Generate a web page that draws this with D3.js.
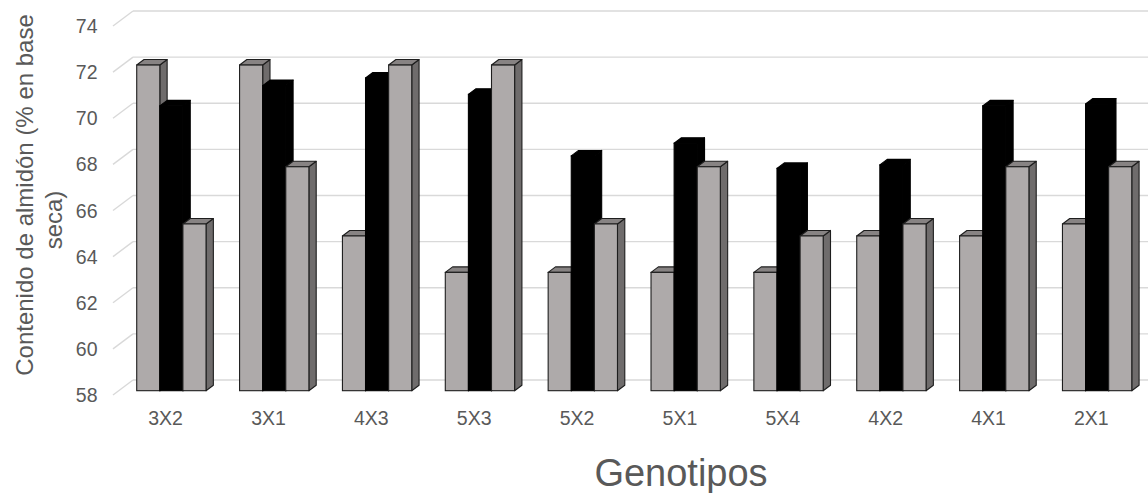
<!DOCTYPE html>
<html>
<head>
<meta charset="utf-8">
<script src="https://cdn.jsdelivr.net/npm/d3@7"></script>
<style>
  html, body { margin: 0; padding: 0; background: #ffffff; }
  svg { display: block; font-family: "Liberation Sans", Arial, sans-serif; }
</style>
</head>
<body>
<svg id="chart" width="1148" height="493"></svg>
<script>
// Starch content (% dry basis) per genotype, three series per genotype
const categories = ["3X2", "3X1", "4X3", "5X3", "5X2", "5X1", "5X4", "4X2", "4X1", "2X1"];
const seriesNames = ["serie1", "serie2", "serie3"];
const serie1 = [72.12, 72.12, 64.71, 63.13, 63.13, 63.13, 63.13, 64.71, 64.71, 65.23];
const serie2 = [70.35, 71.23, 71.56, 70.85, 68.18, 68.73, 67.64, 67.79, 70.35, 70.43];
const serie3 = [65.23, 67.71, 72.12, 72.12, 65.23, 67.71, 64.71, 65.23, 67.71, 67.71];
const yTicks = [58, 60, 62, 64, 66, 68, 70, 72, 74];
const yTitleLines = ["Contenido de almidón (% en base", "seca)"];
const xTitle = "Genotipos";

// 3D look: oblique projection, depth runs up and to the right
const W = 1148, H = 493;
const wallLeft = 113;           // front-left corner of the side wall
const floorY = 395;             // floor level on the front plane
const depthX = 20, depthY = 15; // full depth of the floor
const zFront = 0.287, zBack = 0.653; // bar depth span (0 = front, 1 = back wall)

const svg = d3.select("#chart");
svg.append("rect").attr("width", W).attr("height", H).attr("fill", "#ffffff");

const h = d3.scaleLinear().domain([58, 74]).range([0, 369]);
const x0 = d3.scaleBand().domain(categories).range([114.2, 1142.8]).paddingInner(0).paddingOuter(0);
const x1 = d3.scaleBand().domain(seriesNames).range([0, x0.bandwidth()]).paddingInner(0).paddingOuter(0.726);

const values = { serie1, serie2, serie3 };
const styles = {
  serie1: { front: "#AEAAAA", top: "#878383", side: "#6F6C6C", stroke: "#1e1e1e" },
  serie2: { front: "#000000", top: "#000000", side: "#000000", stroke: "#000000" },
  serie3: { front: "#AEAAAA", top: "#878383", side: "#6F6C6C", stroke: "#1e1e1e" }
};

// gridlines: side wall diagonals + back wall horizontals
const grid = svg.append("g").attr("stroke", "#D9D9D9").attr("stroke-width", 1.4).attr("fill", "none");
grid.selectAll("line.side").data(yTicks).join("line")
  .attr("class", "side")
  .attr("x1", wallLeft).attr("y1", d => floorY - h(d))
  .attr("x2", wallLeft + depthX).attr("y2", d => floorY - depthY - h(d));
grid.selectAll("line.back").data(yTicks).join("line")
  .attr("class", "back")
  .attr("x1", wallLeft + depthX).attr("y1", d => floorY - depthY - h(d))
  .attr("x2", W + 5).attr("y2", d => floorY - depthY - h(d));

// y tick labels at the front edge of the side wall
svg.append("g").selectAll("text").data(yTicks).join("text")
  .attr("x", 97.5).attr("y", d => floorY - h(d)).attr("dy", "0.36em")
  .attr("text-anchor", "end").attr("font-size", 19.5).attr("fill", "#595959")
  .text(d => d);

// bars, drawn left to right so each front face hides the previous side face
const bars = [];
categories.forEach((c, i) => {
  seriesNames.forEach(s => bars.push({ cat: c, series: s, value: values[s][i] }));
});

const ddx = depthX * (zBack - zFront), ddy = depthY * (zBack - zFront);
const bw = x1.bandwidth();
const pts = p => p.map(q => q.join(",")).join(" ");

const barG = svg.append("g").selectAll("g").data(bars).join("g");
barG.each(function (d) {
  const g = d3.select(this);
  const st = styles[d.series];
  const a = x0(d.cat) + x1(d.series) + depthX * zFront;
  const yb = floorY - depthY * zFront;
  const yt = yb - h(d.value);
  g.append("polygon")
    .attr("points", pts([[a + bw, yt], [a + bw + ddx, yt - ddy], [a + bw + ddx, yb - ddy], [a + bw, yb]]))
    .attr("fill", st.side).attr("stroke", st.stroke).attr("stroke-width", 1.1).attr("stroke-linejoin", "round");
  g.append("polygon")
    .attr("points", pts([[a, yt], [a + ddx, yt - ddy], [a + bw + ddx, yt - ddy], [a + bw, yt]]))
    .attr("fill", st.top).attr("stroke", st.stroke).attr("stroke-width", 1.1).attr("stroke-linejoin", "round");
  g.append("rect")
    .attr("x", a).attr("y", yt).attr("width", bw).attr("height", yb - yt)
    .attr("fill", st.front).attr("stroke", st.stroke).attr("stroke-width", 1.1);
});

// category labels
svg.append("g").selectAll("text").data(categories).join("text")
  .attr("x", d => x0(d) + x0.bandwidth() / 2).attr("y", 425)
  .attr("text-anchor", "middle").attr("font-size", 19.5).attr("fill", "#595959")
  .text(d => d);

// axis titles
svg.append("text")
  .attr("transform", "translate(33,195) rotate(-90)")
  .attr("text-anchor", "middle").attr("font-size", 24).attr("fill", "#595959")
  .text(yTitleLines[0]);
svg.append("text")
  .attr("transform", "translate(62,220) rotate(-90)")
  .attr("text-anchor", "middle").attr("font-size", 24).attr("fill", "#595959")
  .text(yTitleLines[1]);
svg.append("text")
  .attr("x", 681).attr("y", 486)
  .attr("text-anchor", "middle").attr("font-size", 38).attr("fill", "#595959")
  .text(xTitle);
</script>
</body>
</html>
